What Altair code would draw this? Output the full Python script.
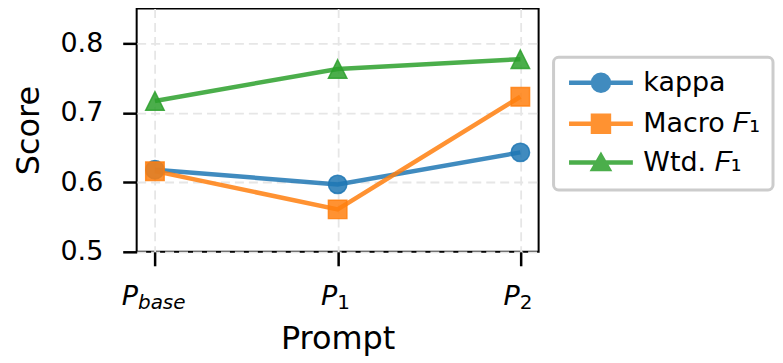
import altair as alt
import pandas as pd

prompts = ["Pbase", "P1", "P2"]
label_main = ["P", "P", "P"]
label_sub = ["base", "1", "2"]

series_names = ["kappa", "Macro 𝐹₁", "Wtd. 𝐹₁"]
kappa = [0.618, 0.597, 0.643]
macro_f1 = [0.616, 0.561, 0.723]
wtd_f1 = [0.717, 0.763, 0.777]

colors = ["#1f77b4", "#ff7f0e", "#2ca02c"]

rows = []
for name, vals in zip(series_names, [kappa, macro_f1, wtd_f1]):
    for i, (p, v) in enumerate(zip(prompts, vals)):
        rows.append({"prompt": p, "idx": i, "series": name, "value": v})
df = pd.DataFrame(rows)
labels_df = pd.DataFrame({"prompt": prompts, "main": label_main, "sub": label_sub})

FONT = "DejaVu Sans"
W, H = 403, 244

x_enc = alt.X(
    "prompt:N",
    sort=prompts,
    scale=alt.Scale(type="point", domain=prompts, padding=0.1),
    axis=alt.Axis(
        labels=False, tickSize=14, tickWidth=2.5, tickColor="black",
        title="Prompt", titleFontSize=32, titleFont=FONT, titleFontWeight="normal",
        titleColor="black", titlePadding=57, domain=False,
        grid=True, gridDash=[9, 5], gridColor="#e6e6e6", gridWidth=1.8,
    ),
)
y_enc = alt.Y(
    "value:Q",
    scale=alt.Scale(domain=[0.5, 0.85], nice=False, zero=False),
    axis=alt.Axis(
        values=[0.5, 0.6, 0.7, 0.8], format=".1f", tickSize=14, tickWidth=2.5,
        tickColor="black", labelFontSize=27, labelFont=FONT, labelColor="black",
        labelPadding=20, title="Score", titleFontSize=32, titleFont=FONT,
        titleFontWeight="normal", titleColor="black", titlePadding=14,
        domain=False, grid=True, gridDash=[9, 5], gridColor="#e6e6e6", gridWidth=1.8,
    ),
)

def cscale():
    return alt.Scale(domain=series_names, range=colors)

lines = alt.Chart(df).mark_line(strokeWidth=4.5, opacity=0.85).encode(
    x=x_enc, y=y_enc,
    color=alt.Color("series:N", scale=cscale(), legend=None),
    order=alt.Order("idx:Q"),
)

plot_shapes = ["circle", "square", "M0,-1L1,1H-1Z"]
points = alt.Chart(df).mark_point(
    filled=True, size=342, opacity=1, fillOpacity=0.85, strokeOpacity=0.85, strokeWidth=1.5
).encode(
    x=x_enc, y=y_enc,
    color=alt.Color("series:N", scale=cscale(), legend=None),
    stroke=alt.Stroke("series:N", scale=cscale(), legend=None),
    shape=alt.Shape("series:N", scale=alt.Scale(domain=series_names, range=plot_shapes), legend=None),
)

legend_paths = [
    "M-3.2,0H3.2M0.8,0A0.8,0.8,0,1,1,-0.8,0A0.8,0.8,0,1,1,0.8,0ZM0.5,0A0.5,0.5,0,1,1,-0.5,0A0.5,0.5,0,1,1,0.5,0ZM0.2,0A0.2,0.2,0,1,1,-0.2,0A0.2,0.2,0,1,1,0.2,0Z",
    "M-3.2,0H3.2M-0.8,-0.8H0.8V0.8H-0.8ZM-0.5,-0.5H0.5V0.5H-0.5ZM-0.2,-0.2H0.2V0.2H-0.2Z",
    "M-3.2,0H3.2M0,-0.65L0.75,0.65H-0.75ZM0,-0.04L0.225,0.35H-0.225Z",
]
leg = alt.Legend(
    title=None, orient="none", legendX=418, legendY=49,
    labelFont=FONT, labelFontSize=27, labelColor="black",
    symbolSize=400, symbolStrokeWidth=4.5, symbolOffset=22, labelOffset=29,
    padding=12, rowPadding=6, strokeColor="#cccccc", fillColor="white", cornerRadius=5,
)
legend_layer = alt.Chart(df).mark_point(filled=False, size=400, strokeWidth=4.5, opacity=0.85).encode(
    color=alt.Color("series:N", scale=cscale(), legend=leg),
    shape=alt.Shape("series:N", scale=alt.Scale(domain=series_names, range=legend_paths), legend=leg),
).transform_filter("false")

lab_main = alt.Chart(labels_df).mark_text(
    font=FONT, fontStyle="italic", fontSize=27, align="right", baseline="alphabetic",
    color="black", dx=alt.ExprRef("5 - 5.5*length(datum.sub)"),
).encode(x=x_enc, y=alt.value(H + 53), text="main:N")

lab_sub = alt.Chart(labels_df).mark_text(
    font=FONT, fontSize=20, align="left", baseline="alphabetic", color="black",
    fontStyle=alt.ExprRef("test(/[0-9]/, datum.sub) ? 'normal' : 'italic'"),
    dx=alt.ExprRef("5 - 5.5*length(datum.sub)"),
).encode(x=x_enc, y=alt.value(H + 57), text="sub:N")

chart = alt.layer(lines, points, legend_layer, lab_main, lab_sub).resolve_scale(
    color="independent", shape="independent"
).properties(
    width=W, height=H, padding={"left": 5, "top": 0, "right": 0, "bottom": 0}, background="white"
).configure_view(
    stroke="black", strokeWidth=2
).configure_legend(strokeWidth=3)

chart.save("out.html", embed_options={"renderer": "svg", "actions": False})
